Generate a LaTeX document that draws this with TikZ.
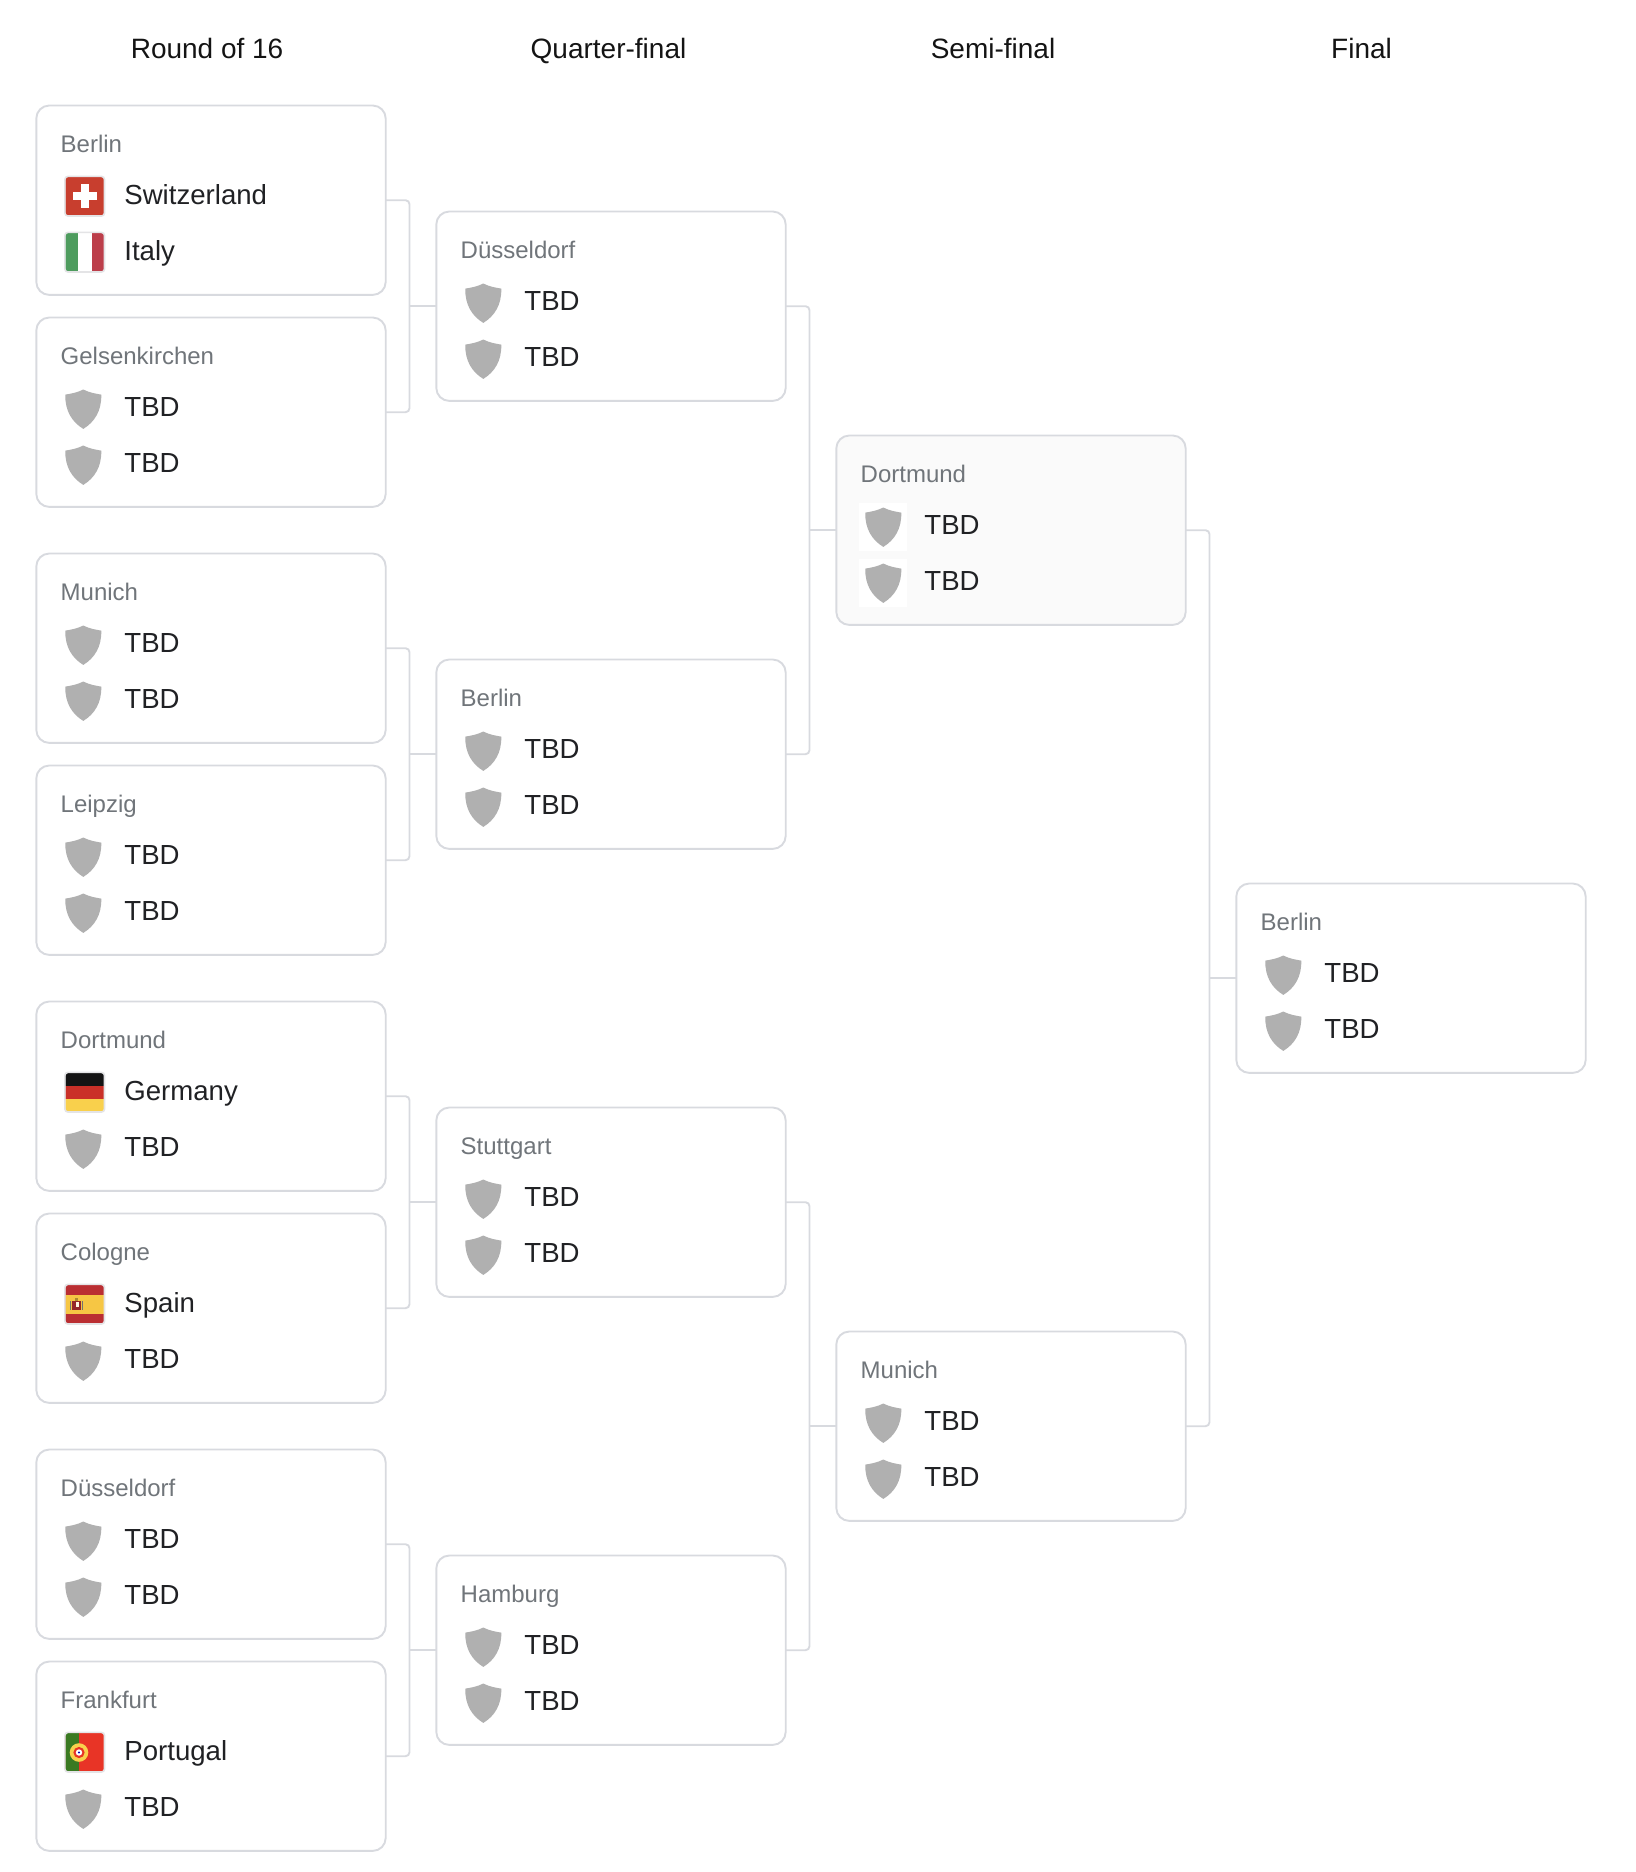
\documentclass[tikz,border=0pt]{standalone}
\usepackage{fontspec}
\setmainfont{Liberation Sans}
\definecolor{edge}{RGB}{216,218,223}
\definecolor{frame}{RGB}{228,228,230}
\definecolor{ink}{RGB}{32,33,36}
\definecolor{ash}{RGB}{112,117,122}
\definecolor{shieldgrey}{RGB}{176,176,176}
\definecolor{hovered}{RGB}{250,250,250}
\definecolor{swissred}{RGB}{200,62,46}
\definecolor{itgreen}{RGB}{78,156,94}
\definecolor{itred}{RGB}{188,62,74}
\definecolor{degold}{RGB}{249,208,76}
\definecolor{dered}{RGB}{202,48,40}
\definecolor{esred}{RGB}{186,46,50}
\definecolor{esgold}{RGB}{246,198,68}
\definecolor{ptgreen}{RGB}{58,122,34}
\definecolor{ptred}{RGB}{232,52,38}
\tikzset{
    round title/.style={anchor=base west, inner sep=0pt, text=black!92,
        font=\fontsize{28}{32}\selectfont},
    card/.style={draw=edge, line width=1.9pt, fill=white, rounded corners=13pt,
        minimum width=349.4pt, minimum height=189.4pt, inner sep=0pt, outer sep=0pt},
    city/.style={anchor=base west, inner sep=0pt, text=ash,
        font=\fontsize{24}{28}\selectfont},
    team/.style={anchor=base west, inner sep=0pt, text=ink,
        font=\fontsize{27.6}{32}\selectfont},
    link/.style={draw=edge, line width=1.9pt, rounded corners=4pt},
    flagclip/.style={rounded corners=2.5pt},
    flagedge/.style={draw=frame, line width=1.6pt, rounded corners=3pt},
    pics/shield/.style={code={
        \fill[shieldgrey] (0,-19.7) .. controls (-6,-16.6) and (-12,-15.6) .. (-18,-14.6)
            .. controls (-18.4,2) and (-11,13) .. (0,19.7)
            .. controls (11,13) and (18.4,2) .. (18,-14.6)
            .. controls (12,-15.6) and (6,-16.6) .. (0,-19.7) -- cycle;
    }},
    pics/shieldpale/.style={code={
        \fill[white] (-24,-24) rectangle (24,24);
        \pic {shield};
    }},
    pics/swiss/.style={code={
        \begin{scope}[shift={(1.4,-1)}]
            \fill[swissred, flagclip] (-19.4,-19.4) rectangle (19.4,19.4);
            \fill[white] (-12,-4) rectangle (12,4);
            \fill[white] (-4,-12) rectangle (4,12);
            \draw[flagedge] (-19.8,-19.8) rectangle (19.8,19.8);
        \end{scope}
    }},
    pics/italy/.style={code={
        \begin{scope}[shift={(1.4,-1)}]
            \begin{scope}
                \clip[flagclip] (-19.4,-19.4) rectangle (19.4,19.4);
                \fill[white] (-19.4,-19.4) rectangle (19.4,19.4);
                \fill[itgreen] (-19.4,-19.4) rectangle (-7,19.4);
                \fill[itred] (7,-19.4) rectangle (19.4,19.4);
            \end{scope}
            \draw[flagedge] (-19.8,-19.8) rectangle (19.8,19.8);
        \end{scope}
    }},
    pics/germany/.style={code={
        \begin{scope}[shift={(1.4,-1)}]
            \begin{scope}
                \clip[flagclip] (-19.4,-19.4) rectangle (19.4,19.4);
                \fill[black!92] (-19.4,-19.4) rectangle (19.4,-6.3);
                \fill[dered] (-19.4,-6.3) rectangle (19.4,6.3);
                \fill[degold] (-19.4,6.3) rectangle (19.4,19.4);
            \end{scope}
            \draw[flagedge] (-19.8,-19.8) rectangle (19.8,19.8);
        \end{scope}
    }},
    pics/spain/.style={code={
        \begin{scope}[shift={(1.4,-1)}]
            \begin{scope}
                \clip[flagclip] (-19.4,-19.4) rectangle (19.4,19.4);
                \fill[esred] (-19.4,-19.4) rectangle (19.4,19.4);
                \fill[esgold] (-19.4,-9.5) rectangle (19.4,9.5);
                % small crest
                \fill[esred!80!black] (-12.5,-3.5) rectangle (-4,6);
                \fill[esgold!70!black] (-10,-6.5) rectangle (-6.5,-3.5);
                \fill[white!85!esgold] (-8.5,-2) rectangle (-5.5,3);
                \fill[black!55] (-15,-3) rectangle (-13.7,6);
                \fill[black!55] (-2.8,-3) rectangle (-1.5,6);
            \end{scope}
            \draw[flagedge] (-19.8,-19.8) rectangle (19.8,19.8);
        \end{scope}
    }},
    pics/portugal/.style={code={
        \begin{scope}[shift={(1.4,-1)}]
            \begin{scope}
                \clip[flagclip] (-19.4,-19.4) rectangle (19.4,19.4);
                \fill[ptred] (-19.4,-19.4) rectangle (19.4,19.4);
                \fill[ptgreen] (-19.4,-19.4) rectangle (-5.7,19.4);
                \fill[degold] (-5.7,0.3) circle (9.3);
                \fill[ptred] (-5.7,0.3) circle (5.6);
                \fill[white] (-5.7,0.3) circle (3.2);
                \fill[blue!70!black] (-5.7,0.3) circle (1.2);
            \end{scope}
            \draw[flagedge] (-19.8,-19.8) rectangle (19.8,19.8);
        \end{scope}
    }},
    pics/match/.style n args={5}{code={
        \node[card] (-box) at (175,95) {};
        \node[city] (-city) at (24.5,47) {#1};
        \pic at (47.3,92) {#3};
        \node[team] (-home) at (88.2,99.5) {#2};
        \pic at (47.3,148) {#5};
        \node[team] (-away) at (88.2,155.5) {#4};
    }},
}

\begin{document}
\begin{tikzpicture}[x=1pt, y=-1pt]
\useasboundingbox (0,0) rectangle (1636,1872);

\node[round title] (t1) at (130.6,58) {Round of 16};
\node[round title] (t2) at (530.5,58) {Quarter-final};
\node[round title] (t3) at (930.6,58) {Semi-final};
\node[round title] (t4) at (1331,58) {Final};

% round of 16
\pic (r1) at (36,105.2) {match={Berlin}{Switzerland}{swiss}{Italy}{italy}};
\pic (r2) at (36,317.2) {match={Gelsenkirchen}{TBD}{shield}{TBD}{shield}};
\pic (r3) at (36,553.2) {match={Munich}{TBD}{shield}{TBD}{shield}};
\pic (r4) at (36,765.2) {match={Leipzig}{TBD}{shield}{TBD}{shield}};
\pic (r5) at (36,1001.2) {match={Dortmund}{Germany}{germany}{TBD}{shield}};
\pic (r6) at (36,1213.2) {match={Cologne}{Spain}{spain}{TBD}{shield}};
\pic (r7) at (36,1449.2) {match={Düsseldorf}{TBD}{shield}{TBD}{shield}};
\pic (r8) at (36,1661.2) {match={Frankfurt}{Portugal}{portugal}{TBD}{shield}};

% quarter-final
\pic (q1) at (436,211.2) {match={Düsseldorf}{TBD}{shield}{TBD}{shield}};
\pic (q2) at (436,659.2) {match={Berlin}{TBD}{shield}{TBD}{shield}};
\pic (q3) at (436,1107.2) {match={Stuttgart}{TBD}{shield}{TBD}{shield}};
\pic (q4) at (436,1555.2) {match={Hamburg}{TBD}{shield}{TBD}{shield}};

% semi-final
\pic[card/.append style={fill=hovered}] (s1) at (836,435.2) {match={Dortmund}{TBD}{shieldpale}{TBD}{shieldpale}};
\pic (s2) at (836,1331.2) {match={Munich}{TBD}{shield}{TBD}{shield}};

% final
\pic (f1) at (1236,883.2) {match={Berlin}{TBD}{shield}{TBD}{shield}};

\coordinate (j1) at (409.5,306.2);
\coordinate (j2) at (409.5,754.2);
\coordinate (j3) at (409.5,1202.2);
\coordinate (j4) at (409.5,1650.2);
\coordinate (j5) at (809.5,530.2);
\coordinate (j6) at (809.5,1426.2);
\coordinate (j7) at (1209.5,978.2);

\draw[link] (r1-box.east) -| (j1) |- (r2-box.east);
\draw[link] (r3-box.east) -| (j2) |- (r4-box.east);
\draw[link] (r5-box.east) -| (j3) |- (r6-box.east);
\draw[link] (r7-box.east) -| (j4) |- (r8-box.east);
\draw[link] (j1) -- (q1-box.west);
\draw[link] (j2) -- (q2-box.west);
\draw[link] (j3) -- (q3-box.west);
\draw[link] (j4) -- (q4-box.west);

\draw[link] (q1-box.east) -| (j5) |- (q2-box.east);
\draw[link] (q3-box.east) -| (j6) |- (q4-box.east);
\draw[link] (j5) -- (s1-box.west);
\draw[link] (j6) -- (s2-box.west);

\draw[link] (s1-box.east) -| (j7) |- (s2-box.east);
\draw[link] (j7) -- (f1-box.west);

\end{tikzpicture}
\end{document}
